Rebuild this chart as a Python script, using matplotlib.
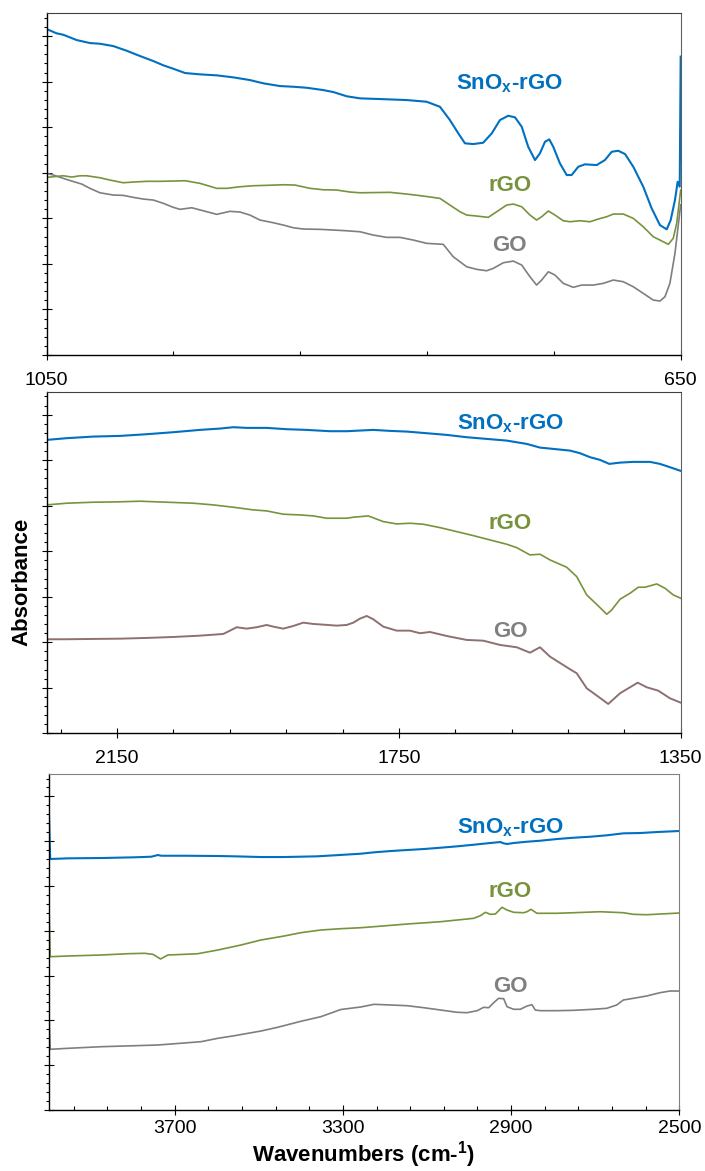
import numpy as np
import matplotlib
matplotlib.use('Agg')
import matplotlib.pyplot as plt
from matplotlib.ticker import FixedLocator, NullFormatter

plt.rcParams['font.family'] = ['Liberation Sans', 'DejaVu Sans']
plt.rcParams['mathtext.fontset'] = 'custom'
plt.rcParams['mathtext.rm'] = 'Liberation Sans'
plt.rcParams['mathtext.bf'] = 'Liberation Sans:bold'

BLUE = '#0070C0'
GREEN = '#77933C'
GRAY = '#7F7F7F'
GO_MID = '#8E7070'

# ---- panel 1 : 1050 - 650 cm-1 ----
top_wn_snox = [1050, 1043.7, 1039.5, 1031.1, 1022.7, 1016.4, 1008, 999.5, 991.1, 982.7, 976.4, 970.1,
               962.7, 953.3, 942.7, 932.3, 921.8, 913.3, 902.8, 894.4, 886, 875.5, 869.2, 860.7, 852.3,
               839.7, 822.9, 810.3, 801.9, 795.6, 790.3, 786.1, 780.9, 774.6, 769.2, 764, 758.8, 754.5,
               750.3, 746.2, 741.9, 738.8, 735.6, 732.9, 730.4, 726.2, 721.9, 718.8, 714.6, 710.4, 703,
               697.8, 693.5, 689.4, 685.1, 679.9, 673.6, 668.3, 663.1, 658.8, 656.3, 653.6, 651.9, 650.6, 650]
top_abs_snox = [7.155, 7.061, 7.030, 6.914, 6.848, 6.833, 6.782, 6.679, 6.563, 6.453, 6.359, 6.284,
                6.190, 6.161, 6.139, 6.095, 6.036, 5.964, 5.904, 5.889, 5.867, 5.816, 5.773, 5.680, 5.634,
                5.619, 5.597, 5.560, 5.450, 5.158, 4.866, 4.647, 4.631, 4.660, 4.866, 5.158, 5.252, 5.217,
                5.011, 4.572, 4.280, 4.427, 4.682, 4.734, 4.572, 4.208, 3.951, 3.951, 4.133, 4.186, 4.170,
                4.280, 4.462, 4.484, 4.412, 4.133, 3.694, 3.220, 2.853, 2.759, 2.963, 3.402, 3.804, 3.694, 6.55]

top_wn_rgo = [1050, 1039.5, 1034.2, 1029, 1024.8, 1016.4, 1010.1, 1001.7, 995.4, 986.9, 978.5, 970.1,
              962.7, 953.3, 942.7, 936.4, 928, 919.7, 911.2, 900.7, 893.3, 883.9, 875.5, 867, 858.6,
              852.3, 833.4, 822.9, 812.4, 801.9, 795.6, 789.2, 785, 778.7, 771.4, 766.1, 759.8, 755.6,
              750.3, 745.1, 740.9, 737.7, 733.5, 729.3, 724.1, 719.8, 713.5, 707.2, 702, 696.7, 692.5,
              686.2, 679.9, 673.6, 667.3, 663.1, 657.8, 654.7, 652.5, 650]
top_abs_rgo = [3.900, 3.935, 3.907, 3.935, 3.935, 3.892, 3.841, 3.782, 3.797, 3.813, 3.813, 3.819,
               3.826, 3.769, 3.659, 3.659, 3.694, 3.716, 3.725, 3.738, 3.731, 3.659, 3.628, 3.622, 3.578,
               3.562, 3.571, 3.534, 3.490, 3.439, 3.292, 3.145, 3.073, 3.051, 3.022, 3.145, 3.292, 3.314,
               3.255, 3.073, 2.963, 3.036, 3.161, 3.073, 2.948, 2.926, 2.948, 2.926, 2.985, 3.036, 3.095,
               3.095, 3.000, 2.816, 2.597, 2.524, 2.430, 2.561, 2.891, 3.62]

top_wn_go = [1050, 1045.8, 1039.5, 1034.2, 1027.9, 1022.7, 1016.4, 1008, 1001.7, 995.4, 989.1, 982.7,
             976.4, 970.1, 965.9, 958.5, 951.2, 942.7, 934.4, 928, 921.8, 915.4, 907, 900.7, 894.4,
             888.1, 877.6, 869.2, 860.7, 852.3, 844, 835.5, 827.1, 818.7, 810.3, 799.8, 793.5, 785,
             778.7, 772.4, 768.2, 761.9, 755.6, 750.3, 745.1, 740.9, 737.7, 733.5, 729.3, 724.1, 717.8,
             712.5, 705.1, 698.8, 692.5, 686.2, 679.9, 673.6, 667.3, 663.1, 659.9, 656.8, 653.6, 650]
top_abs_go = [3.988, 3.951, 3.878, 3.819, 3.753, 3.659, 3.562, 3.512, 3.505, 3.461, 3.424, 3.402,
              3.330, 3.242, 3.198, 3.233, 3.167, 3.088, 3.154, 3.139, 3.073, 2.963, 2.904, 2.853, 2.794,
              2.766, 2.759, 2.744, 2.728, 2.706, 2.634, 2.583, 2.583, 2.524, 2.452, 2.430, 2.158, 1.938,
              1.881, 1.850, 1.903, 2.026, 2.063, 1.975, 1.719, 1.536, 1.646, 1.828, 1.756, 1.574, 1.486,
              1.536, 1.536, 1.574, 1.646, 1.609, 1.499, 1.354, 1.207, 1.185, 1.280, 1.574, 2.232, 3.30]

# ---- panel 2 : 2250 - 1350 cm-1 ----
mid_wn_snox = [2250, 2221.6, 2183.8, 2145.9, 2108, 2070.3, 2032.4, 2004, 1985.1, 1966.1, 1937.7, 1909.3,
               1880.9, 1847.8, 1824.1, 1786.4, 1762.6, 1738.9, 1710.6, 1682.2, 1653.8, 1625.4, 1597,
               1568.6, 1549.7, 1530.8, 1507.1, 1492.9, 1478.7, 1464.5, 1451.3, 1436.1, 1417.3, 1393.5,
               1379.4, 1365.2, 1350]
mid_abs_snox = [6.446, 6.484, 6.519, 6.534, 6.571, 6.615, 6.666, 6.695, 6.725, 6.710, 6.710, 6.681,
                6.666, 6.637, 6.637, 6.666, 6.644, 6.629, 6.593, 6.556, 6.505, 6.468, 6.431,
                6.358, 6.277, 6.248, 6.211, 6.154, 6.066, 6.007, 5.919, 5.947, 5.963, 5.963,
                5.919, 5.846, 5.765]

mid_wn_rgo = [2250, 2221.6, 2183.8, 2150.6, 2117.6, 2079.6, 2041.9, 2013.5, 1985.1, 1956.7, 1937.7, 1914.1,
              1890.4, 1871.5, 1852.5, 1824.1, 1814.7, 1793.5, 1772.2, 1753.1, 1734.3, 1715.4, 1691.7,
              1668, 1644.4, 1620.7, 1597, 1582.8, 1563.9, 1549.7, 1535.5, 1511.8, 1497.6, 1483.4,
              1466.9, 1455, 1447.9, 1436.1, 1421.9, 1410.1, 1400.6, 1384, 1372.3, 1360.5, 1350]
mid_abs_rgo = [5.018, 5.055, 5.077, 5.084, 5.099, 5.077, 5.055, 5.018, 4.967, 4.908, 4.886, 4.813,
               4.798, 4.776, 4.725, 4.725, 4.747, 4.776, 4.651, 4.600, 4.615, 4.593, 4.519,
               4.431, 4.343, 4.248, 4.154, 4.079, 3.919, 3.934, 3.809, 3.648, 3.442, 3.040,
               2.798, 2.615, 2.710, 2.945, 3.077, 3.209, 3.209, 3.281, 3.187, 3.040, 2.967]

mid_wn_go = [2250, 2221.6, 2183.8, 2145.9, 2108, 2070.3, 2032.4, 1999.3, 1989.8, 1980.3, 1966.1, 1951.9,
             1937.7, 1928.3, 1914.1, 1899.9, 1885.7, 1871.5, 1857.3, 1838.3, 1824.1, 1814.7, 1805.2,
             1795.7, 1786.4, 1772.2, 1753.1, 1734.3, 1720, 1705.9, 1682.2, 1653.8, 1630.2, 1606.5,
             1582.8, 1563.9, 1549.7, 1535.5, 1507.1, 1497.6, 1483.4, 1466.9, 1452.8, 1436.1, 1421.9,
             1411, 1398.2, 1381.8, 1365.2, 1350]
mid_abs_go = [2.066, 2.066, 2.073, 2.079, 2.095, 2.116, 2.145, 2.182, 2.255, 2.330, 2.299, 2.330,
              2.380, 2.343, 2.299, 2.358, 2.431, 2.402, 2.387, 2.365, 2.380, 2.431, 2.519,
              2.578, 2.505, 2.343, 2.255, 2.255, 2.198, 2.226, 2.138, 2.051, 2.035, 1.941,
              1.890, 1.771, 1.890, 1.684, 1.407, 1.319, 0.989, 0.804, 0.644, 0.879, 1.011,
              1.112, 1.011, 0.936, 0.769, 0.673]

# ---- panel 3 : 4000 - 2500 cm-1 ----
bot_wn_snox = [4000, 3996, 3953.3, 3874.3, 3795.3, 3755.7, 3739.8, 3732, 3676.7, 3597.5, 3558.1, 3494.8,
               3439.5, 3360.3, 3320.9, 3257.6, 3226, 3186.4, 3146.8, 3107.4, 3067.8, 3028.2, 2988.8,
               2957, 2925.5, 2917.6, 2909.6, 2893.9, 2862.2, 2830.6, 2791, 2751.6, 2712, 2672.4, 2633,
               2593.4, 2553.8, 2500]
bot_abs_snox = [7.01, 5.603, 5.618, 5.625, 5.641, 5.654, 5.692, 5.676, 5.676, 5.670, 5.663, 5.647,
                5.647, 5.663, 5.685, 5.721, 5.752, 5.781, 5.804, 5.826, 5.855, 5.886, 5.922,
                5.953, 5.982, 5.953, 5.938, 5.960, 5.989, 6.011, 6.049, 6.078, 6.100, 6.132, 6.176,
                6.183, 6.205, 6.228]

bot_wn_rgo = [4000, 3996, 3953.3, 3874.3, 3811, 3771.6, 3751.7, 3733.6, 3716.1, 3676.7, 3644.9, 3597.5,
              3542.2, 3494.8, 3439.5, 3399.9, 3352.4, 3305, 3257.6, 3226, 3146.8, 3067.8, 2988.8, 2973,
              2961.1, 2949.2, 2937.3, 2921.5, 2909.6, 2893.9, 2870.2, 2862.2, 2852.7, 2838.4, 2791,
              2751.6, 2688.3, 2633, 2609.3, 2577.5, 2500]
bot_abs_rgo = [5.022, 3.422, 3.438, 3.460, 3.489, 3.498, 3.475, 3.371, 3.460, 3.475, 3.489, 3.571,
               3.683, 3.795, 3.884, 3.958, 4.018, 4.047, 4.069, 4.092, 4.152, 4.203, 4.279, 4.337,
               4.413, 4.368, 4.375, 4.525, 4.464, 4.413, 4.404, 4.426, 4.480, 4.391, 4.391,
               4.404, 4.426, 4.404, 4.368, 4.359, 4.397]

bot_wn_go = [4000, 3996, 3953.3, 3874.3, 3795.3, 3739.8, 3676.7, 3637.1, 3597.5, 3558.1, 3494.8, 3455.1,
             3399.9, 3352.4, 3305, 3257.6, 3226, 3186.4, 3146.8, 3107.4, 3067.8, 3028.2, 3004.5, 2980.7,
             2965.1, 2953.2, 2941.4, 2929.5, 2917.6, 2909.6, 2893.9, 2878, 2862.2, 2850.3, 2842.5,
             2830.6, 2791, 2751.6, 2704.2, 2672.4, 2648.7, 2633, 2609.3, 2577.5, 2546, 2522.2, 2500]
bot_abs_go = [2.529, 1.355, 1.377, 1.413, 1.435, 1.451, 1.496, 1.525, 1.600, 1.658, 1.763, 1.846,
              1.980, 2.083, 2.243, 2.299, 2.359, 2.344, 2.328, 2.283, 2.232, 2.181, 2.172, 2.217,
              2.292, 2.283, 2.395, 2.493, 2.484, 2.306, 2.248, 2.248, 2.321, 2.350, 2.232,
              2.217, 2.217, 2.225, 2.248, 2.270, 2.344, 2.455, 2.493, 2.545, 2.618, 2.656, 2.656]

fig = plt.figure(figsize=(7.05, 11.71), dpi=100)
ax1 = fig.add_axes([0.0662, 0.6968, 0.8993, 0.2918])
ax2 = fig.add_axes([0.0662, 0.3738, 0.8993, 0.2915])
ax3 = fig.add_axes([0.0688, 0.0521, 0.8947, 0.2869])

ax1.plot(top_wn_go, top_abs_go, color=GRAY, lw=1.2)
ax1.plot(top_wn_rgo, top_abs_rgo, color=GREEN, lw=1.2)
ax1.plot(top_wn_snox, top_abs_snox, color=BLUE, lw=1.5)

ax2.plot(mid_wn_go, mid_abs_go, color=GO_MID, lw=1.4)
ax2.plot(mid_wn_rgo, mid_abs_rgo, color=GREEN, lw=1.2)
ax2.plot(mid_wn_snox, mid_abs_snox, color=BLUE, lw=1.5)

ax3.plot(bot_wn_go, bot_abs_go, color=GRAY, lw=1.2)
ax3.plot(bot_wn_rgo, bot_abs_rgo, color=GREEN, lw=1.2)
ax3.plot(bot_wn_snox, bot_abs_snox, color=BLUE, lw=1.5)

panels = [
    (ax1, (1050, 650), [1050, 650], np.arange(650, 1051, 80), 8.6, 757.8, (5.82, 3.61, 2.29)),
    (ax2, (2250, 1350), [2150, 1750, 1350], np.arange(1350, 2251, 80), 8.4, 1592, (6.68, 4.48, 2.11)),
    (ax3, (4000, 2500), [3700, 3300, 2900, 2500], np.arange(2500, 4001, 80), 3.6, 2902, (6.18, 4.76, 2.64)),
]

for ax, xl, majors, minors, pad, lx, ly in panels:
    ax.set_xlim(*xl)
    ax.set_ylim(0, 7.5)
    ax.xaxis.set_major_locator(FixedLocator(majors))
    ax.xaxis.set_minor_locator(FixedLocator(minors))
    ax.yaxis.set_major_locator(FixedLocator(np.arange(0, 8, 1)))
    ax.yaxis.set_minor_locator(FixedLocator(np.arange(0, 7.5, 0.2)))
    ax.yaxis.set_major_formatter(NullFormatter())
    ax.tick_params(axis='x', which='major', direction='inout', length=7.5, width=0.8,
                   labelsize=14, pad=pad)
    ax.tick_params(axis='x', which='minor', direction='in', length=3, width=0.8)
    ax.tick_params(axis='y', which='major', direction='inout', length=6.5, width=0.8)
    ax.tick_params(axis='y', which='minor', direction='out', length=2.4, width=0.8)
    for s in ['left', 'bottom']:
        ax.spines[s].set_linewidth(1.0)
        ax.spines[s].set_color('black')
    ax.spines['right'].set_color('#606060')
    ax.spines['top'].set_color('#404040')
    ax.text(lx, ly[0], r'SnO$_{\mathbf{x}}$-rGO', color=BLUE, fontsize=16, fontweight='bold',
            ha='center', va='baseline')
    ax.text(lx, ly[1], 'rGO', color=GREEN, fontsize=16, fontweight='bold', ha='center', va='baseline')
    ax.text(lx, ly[2], 'GO', color='#808080', fontsize=16, fontweight='bold', ha='center', va='baseline')

ax3.spines['top'].set_color('#808080')
ax3.spines['right'].set_color('#808080')

fig.text(0.031, 0.503, 'Absorbance', rotation=90, fontsize=16, fontweight='bold',
         ha='center', va='center')
fig.text(0.516, 0.0085, r'Wavenumbers (cm-$^{\mathbf{1}}$)', fontsize=16, fontweight='bold',
         ha='center', va='baseline')

fig.savefig('out.png', dpi=100)
